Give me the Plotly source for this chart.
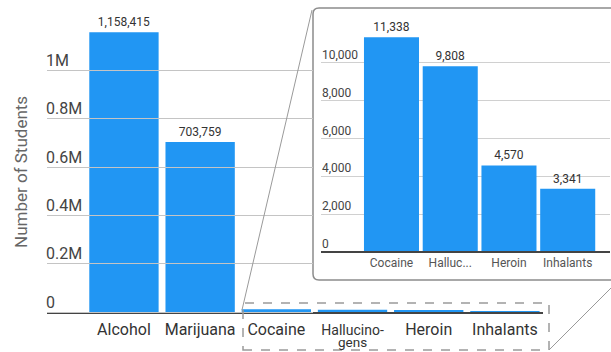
import plotly.graph_objects as go

W, H = 611, 352

# ---------------- data ----------------
main_categories = ["Alcohol", "Marijuana", "Cocaine", "Hallucinogens", "Heroin", "Inhalants"]
main_tick_text = ["Alcohol", "Marijuana", "Cocaine",
                  "<span style='font-size:14px'>Hallucino-</span>", "Heroin", "Inhalants"]
main_values = [1158415, 703759, 11338, 9808, 4570, 3341]

inset_categories = ["Cocaine", "Halluc...", "Heroin", "Inhalants"]
inset_values = [11338, 9808, 4570, 3341]

main_tick_values = [0, 200000, 400000, 600000, 800000, 1000000]
main_tick_labels = ["0", "0.2M", "0.4M", "0.6M", "0.8M", "1M"]

inset_tick_values = [0, 2000, 4000, 6000, 8000, 10000]
inset_tick_labels = ["0", "2,000", "4,000", "6,000", "8,000", "10,000"]

y_title = "Number of Students"
wrap_suffix = "gens"      # second line of the "Hallucino-" tick label
label_threshold = 100000  # only large bars get a value label in the main chart

# ---------------- styling helpers ----------------
BLUE = "#2196F3"
FONT = "Roboto"


def px(x):
    return x / W


def py(y):
    return 1 - y / H


main_text = [f"{v:,}" if v > label_threshold else "" for v in main_values]
inset_text = [f"{v:,}" for v in inset_values]

fig = go.Figure()

fig.add_trace(go.Bar(
    x=main_categories, y=main_values, xaxis="x", yaxis="y",
    width=0.91, marker=dict(color=BLUE, line=dict(width=0)),
    text=main_text, textposition="outside", cliponaxis=False,
    textfont=dict(family=FONT, size=12, color="#333"),
    hoverinfo="skip", showlegend=False,
))

fig.add_trace(go.Bar(
    x=inset_categories, y=inset_values, xaxis="x2", yaxis="y2",
    width=0.937, marker=dict(color=BLUE, line=dict(width=0)),
    text=inset_text, textposition="outside", cliponaxis=False,
    textfont=dict(family=FONT, size=12, color="#333"),
    hoverinfo="skip", showlegend=False,
))

# carrier for the main chart's grid (which stops at the inset's edge)
fig.add_trace(go.Scatter(x=[], y=[], xaxis="x3", yaxis="y3",
                         hoverinfo="skip", showlegend=False))

main_ppu = 241.5 / 1e6
main_y_range = [0, (312 - 10) / main_ppu]
grid_y_range = [-10 / main_ppu, (312 - 10) / main_ppu]

inset_ppu = (252 - 62.7) / 10000
inset_y_range = [-8 / inset_ppu, (252 - 20) / inset_ppu]

# inset box (rounded), drawn beneath the subplots
bx0, bx1, by0, by1, r = 313, 640, 8, 280, 6
rx, ry = r / W, r / H
X0, X1, Y0, Y1 = px(bx0), px(bx1), py(by1), py(by0)
box_path = (
    f"M {X0+rx},{Y1} L {X1-rx},{Y1} Q {X1},{Y1} {X1},{Y1-ry} "
    f"L {X1},{Y0+ry} Q {X1},{Y0} {X1-rx},{Y0} L {X0+rx},{Y0} "
    f"Q {X0},{Y0} {X0},{Y0+ry} L {X0},{Y1-ry} Q {X0},{Y1} {X0+rx},{Y1} Z"
)

shapes = [
    dict(type="path", path=box_path, xref="paper", yref="paper",
         fillcolor="white", line=dict(color="#8c8c8c", width=1.5), layer="below"),
    dict(type="rect", xref="paper", yref="paper",
         x0=px(243), x1=px(549), y0=py(350), y1=py(303),
         line=dict(color="#9a9a9a", width=1.5, dash="dash"), layer="above"),
    dict(type="line", xref="paper", yref="paper",
         x0=px(242), y0=py(310), x1=px(312), y1=py(10),
         line=dict(color="#9a9a9a", width=1), layer="above"),
    dict(type="line", xref="paper", yref="paper",
         x0=px(549), y0=py(350), x1=px(620), y1=py(279),
         line=dict(color="#9a9a9a", width=1), layer="above"),
]

fig.update_layout(
    width=W, height=H,
    margin=dict(l=0, r=0, t=0, b=0),
    paper_bgcolor="white",
    plot_bgcolor="rgba(0,0,0,0)",
    font=dict(family=FONT, color="#333"),
    showlegend=False,
    shapes=shapes,
    # main chart
    xaxis=dict(
        domain=[px(47), px(543)], range=[-1.01, 5.5], anchor="y",
        tickvals=main_categories, ticktext=main_tick_text,
        showline=True, linecolor="#444", linewidth=2, ticks="",
        ticklabelstandoff=2,
        showgrid=False, zeroline=False, fixedrange=True,
        tickfont=dict(family=FONT, size=16, color="#333"),
    ),
    yaxis=dict(
        domain=[py(312), py(10)], range=main_y_range, anchor="x",
        visible=False, fixedrange=True,
    ),
    # grid + labels of the main chart
    xaxis3=dict(
        domain=[px(47), px(313)], range=[0, 1], anchor="y3",
        visible=False, fixedrange=True,
    ),
    yaxis3=dict(
        domain=[py(322), py(10)], range=grid_y_range, anchor="x3",
        tickvals=main_tick_values, ticktext=main_tick_labels,
        ticklabelposition="inside", ticks="", ticklabelshift=-10,
        ticklabelstandoff=-4,
        showgrid=True, gridcolor="#c4c4c4", gridwidth=1,
        zeroline=False, showline=False, fixedrange=True,
        tickfont=dict(family=FONT, size=16, color="#444"),
    ),
    # inset chart
    xaxis2=dict(
        domain=[px(321), px(610)], range=[-1.2, 3.72], anchor="free",
        position=py(252),
        showline=True, linecolor="#444", linewidth=2, ticks="",
        showgrid=False, zeroline=False, fixedrange=True,
        tickfont=dict(family=FONT, size=12, color="#555"),
    ),
    yaxis2=dict(
        domain=[py(260), py(20)], range=inset_y_range, anchor="x2",
        tickvals=inset_tick_values, ticktext=inset_tick_labels,
        ticklabelposition="inside", ticks="", ticklabelshift=-8,
        ticklabelstandoff=-2,
        showgrid=True, gridcolor="#d0d0d0", gridwidth=1,
        zeroline=False, showline=False, fixedrange=True,
        tickfont=dict(family=FONT, size=12, color="#444"),
    ),
    annotations=[
        dict(text=y_title, xref="paper", yref="paper",
             x=px(21), y=py(172), textangle=-90, showarrow=False,
             font=dict(family=FONT, size=17, color="#666"),
             xanchor="center", yanchor="middle"),
        dict(text=wrap_suffix, xref="x", yref="paper",
             x=main_categories[3], y=py(342), showarrow=False,
             font=dict(family=FONT, size=13.5, color="#333"),
             xanchor="center", yanchor="middle"),
    ],
)

fig.write_html("out.html", config={"displayModeBar": False})
